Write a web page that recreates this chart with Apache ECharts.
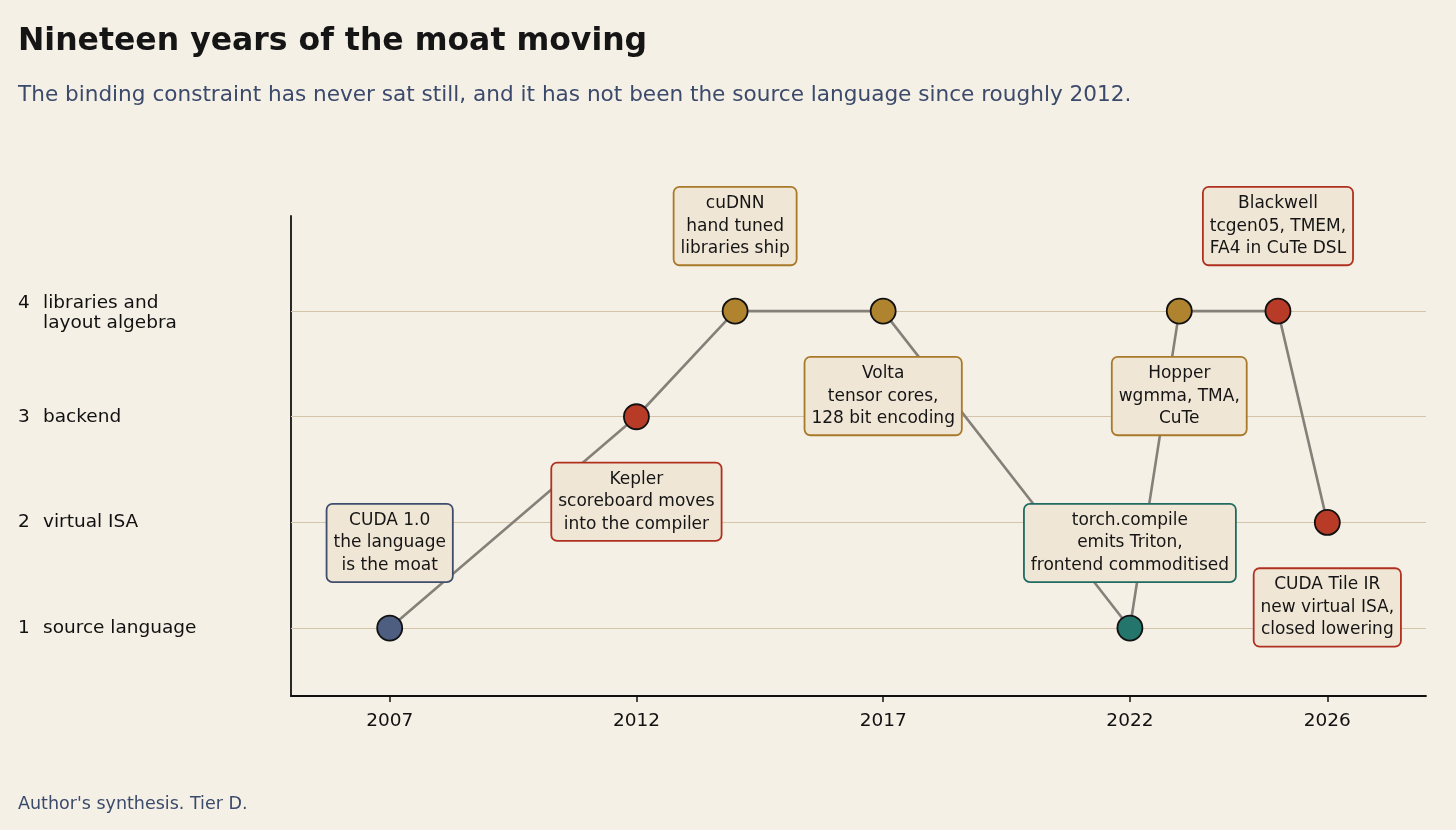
<!DOCTYPE html>
<html>
<head>
<meta charset="utf-8">
<title>Nineteen years of the moat moving</title>
<script src="https://cdn.jsdelivr.net/npm/echarts@6/dist/echarts.min.js"></script>
<style>
  html, body { margin: 0; padding: 0; background: #f5f0e6; }
  #main { width: 1456px; height: 830px; }
</style>
</head>
<body>
<div id="main"></div>
<script>
// chart data
const years = [2007, 2012, 2014, 2017, 2022, 2023, 2025, 2026];
const levels = [1, 3, 4, 4, 1, 4, 4, 2];
const kinds = ["slate", "rust", "ochre", "ochre", "teal", "ochre", "rust", "rust"];
const notes = [
  "CUDA 1.0\nthe language\nis the moat",
  "Kepler\nscoreboard moves\ninto the compiler",
  "cuDNN\nhand tuned\nlibraries ship",
  "Volta\ntensor cores,\n128 bit encoding",
  "torch.compile\nemits Triton,\nfrontend commoditised",
  "Hopper\nwgmma, TMA,\nCuTe",
  "Blackwell\ntcgen05, TMEM,\nFA4 in CuTe DSL",
  "CUDA Tile IR\nnew virtual ISA,\nclosed lowering"
];
const yearTicks = [2007, 2012, 2017, 2022, 2026];
const levelTicks = [1, 2, 3, 4];
const levelNames = ["source language", "virtual ISA", "backend", "libraries and\nlayout algebra"];

// colours per kind: marker fill, box border
const palette = {
  slate: { fill: "#4e5e80", edge: "#3e4d6c" },
  rust: { fill: "#b83b27", edge: "#b0301f" },
  ochre: { fill: "#b0842f", edge: "#a9792a" },
  teal: { fill: "#24766d", edge: "#1f6a61" }
};

const font = "DejaVu Sans";

let points = years.map((y, i) => {
  let c = palette[kinds[i]];
  return {
    value: [y, levels[i]],
    itemStyle: { color: c.fill },
    label: {
      show: true,
      position: "inside",
      offset: [0, i % 2 === 0 ? -85 : 85],
      formatter: notes[i],
      color: "#151515",
      fontFamily: font,
      fontSize: 17,
      lineHeight: 22.5,
      align: "center",
      backgroundColor: "#f0e6d6",
      borderColor: c.edge,
      borderWidth: 1.8,
      borderRadius: 5,
      padding: [5, 6, 4, 6]
    }
  };
});

// y labels: number in a fixed column, wrapped names indented under the text
function levelLabel(v) {
  let lines = levelNames[v - 1].split("\n");
  let body = lines.map((l, k) => (k === 0 ? "{n|" + v + "}" : "{n|}") + "{t|" + l + "}");
  if (lines.length > 1) body.unshift("{e|}");
  return body.join("\n");
}

let myChart = echarts.init(document.getElementById("main"), null, { renderer: "canvas" });
myChart.setOption({
  backgroundColor: "#f5f0e6",
  animation: false,
  title: [
    {
      text: "Nineteen years of the moat moving",
      left: 18,
      top: 26,
      padding: 0,
      textStyle: { fontFamily: font, fontSize: 31.5, fontWeight: "bold", color: "#151515" }
    },
    {
      text: "The binding constraint has never sat still, and it has not been the source language since roughly 2012.",
      left: 18,
      top: 84,
      padding: 0,
      textStyle: { fontFamily: font, fontSize: 21.6, fontWeight: "normal", color: "#3b4a6b" }
    },
    {
      text: "Author's synthesis. Tier D.",
      left: 18,
      top: 795,
      padding: 0,
      textStyle: { fontFamily: font, fontSize: 17.5, fontWeight: "normal", color: "#3b4a6b" }
    }
  ],
  grid: { left: 291, right: 30, top: 216, bottom: 134 },
  xAxis: {
    type: "value",
    min: 2005,
    max: 2028,
    axisLine: { lineStyle: { color: "#111", width: 1.8 } },
    axisTick: { show: true, customValues: yearTicks, length: 6, lineStyle: { color: "#111", width: 1.5 } },
    axisLabel: {
      customValues: yearTicks,
      formatter: v => String(v),
      color: "#111",
      fontFamily: font,
      fontSize: 18.5,
      margin: 16
    },
    splitLine: { show: false }
  },
  yAxis: {
    type: "value",
    min: 0.357,
    max: 4.9,
    axisLine: { show: true, lineStyle: { color: "#111", width: 1.8 } },
    axisTick: { show: false },
    splitLine: { show: false },
    axisLabel: {
      customValues: levelTicks,
      align: "left",
      margin: 273,
      formatter: levelLabel,
      rich: {
        e: { fontSize: 1, lineHeight: 4, height: 4 },
        n: { width: 25, fontFamily: font, fontSize: 18.5, color: "#111", lineHeight: 20 },
        t: { fontFamily: font, fontSize: 18.5, color: "#111", lineHeight: 20 }
      }
    }
  },
  series: [
    {
      type: "line",
      data: points,
      symbol: "circle",
      symbolSize: 25,
      showAllSymbol: true,
      lineStyle: { color: "#85817a", width: 2.6 },
      itemStyle: { borderColor: "#111", borderWidth: 1.8 },
      emphasis: { disabled: true },
      silent: true,
      z: 3,
      markLine: {
        silent: true,
        symbol: "none",
        label: { show: false },
        lineStyle: { color: "#d3c4aa", width: 1.2, type: "solid" },
        data: levelTicks.map(v => ({ yAxis: v })),
        z: 1
      }
    }
  ]
});
</script>
</body>
</html>
